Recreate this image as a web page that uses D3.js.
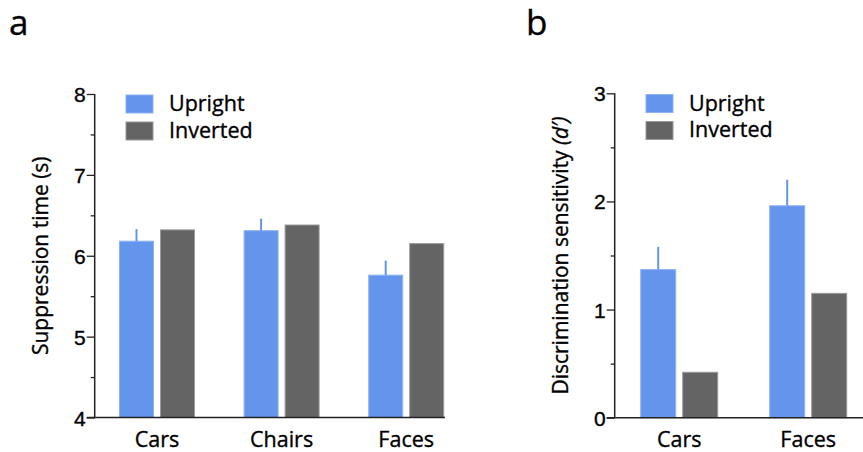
<!DOCTYPE html>
<html>
<head>
<meta charset="utf-8">
<script src="https://cdn.jsdelivr.net/npm/d3@7"></script>
<style>
  body { margin: 0; background: #fff; }
  svg { display: block; font-family: "Open Sans", "Noto Sans", sans-serif; }
  svg text { fill: #000; stroke: #000; stroke-width: 0.35px; }
</style>
</head>
<body>
<div id="chart"></div>
<script>
// Data
const series = ["Upright", "Inverted"];
const colors = ["#6495ED", "#646464"];
const edgeColors = ["#8FB2F2", "#9a9a9a"];

// Panel a: suppression time
const catsA = ["Cars", "Chairs", "Faces"];
const uprightA = [6.18, 6.31, 5.76];
const invertedA = [6.32, 6.38, 6.15];
const uprightErrA = [0.15, 0.15, 0.18];
const ticksA = [4, 5, 6, 7, 8];

// Panel b: discrimination sensitivity
const catsB = ["Cars", "Faces"];
const uprightB = [1.37, 1.96];
const invertedB = [0.42, 1.15];
const uprightErrB = [0.21, 0.24];
const ticksB = [0, 1, 2, 3];

const width = 863, height = 452;

const svg = d3.select("#chart")
  .append("svg")
    .attr("width", width)
    .attr("height", height);

// Draw one bar panel
function drawPanel(opts) {
  const g = svg.append("g");

  const y = d3.scaleLinear().domain(opts.yDomain).range([opts.yBottom, opts.yTop]);
  const x = d3.scaleBand().domain(opts.cats).range(opts.xRange).paddingInner(0).paddingOuter(0);
  const step = x.step();
  const inner = d3.scaleBand().domain(series)
    .range([(step - opts.groupWidth) / 2, (step + opts.groupWidth) / 2])
    .paddingInner(opts.innerPad);

  const rows = opts.cats.map(function(c, i) {
    return { cat: c, values: [opts.upright[i], opts.inverted[i]], err: opts.err[i] };
  });

  // Bars
  const groups = g.selectAll(".grp")
    .data(rows)
    .enter().append("g")
      .attr("transform", function(d) { return "translate(" + x(d.cat) + ",0)"; });

  groups.selectAll("rect")
    .data(function(d) { return d.values.map(function(v, j) { return { s: series[j], v: v, j: j }; }); })
    .enter().append("rect")
      .attr("x", function(d) { return inner(d.s); })
      .attr("y", function(d) { return y(d.v); })
      .attr("width", inner.bandwidth())
      .attr("height", function(d) { return y(opts.yDomain[0]) - y(d.v); })
      .attr("fill", function(d) { return colors[d.j]; })
      .attr("stroke", function(d) { return edgeColors[d.j]; })
      .attr("stroke-width", 1);

  // Error bars (upward only, upright series)
  groups.append("line")
    .attr("x1", inner("Upright") + inner.bandwidth() / 2)
    .attr("x2", inner("Upright") + inner.bandwidth() / 2)
    .attr("y1", function(d) { return y(d.values[0]); })
    .attr("y2", function(d) { return y(d.values[0] + d.err); })
    .attr("stroke", colors[0])
    .attr("stroke-width", 2);

  // Y axis with minor ticks
  const minor = [];
  for (let i = 0; i < opts.ticks.length - 1; i++) minor.push((opts.ticks[i] + opts.ticks[i + 1]) / 2);

  g.append("g")
    .attr("transform", "translate(" + opts.xRange[0] + ",0)")
    .call(d3.axisLeft(y).tickValues(minor).tickSize(4).tickFormat(""))
    .call(function(a) { a.select(".domain").remove(); })
    .selectAll("line").attr("stroke", "#222").attr("stroke-width", 1.3);

  const yAxis = g.append("g")
    .attr("transform", "translate(" + opts.xRange[0] + ",0)")
    .call(d3.axisLeft(y).tickValues(opts.ticks).tickSize(8).tickPadding(1).tickFormat(d3.format("d")));
  yAxis.select(".domain").attr("stroke", "#222").attr("stroke-width", 1.5)
    .attr("d", "M0," + opts.yTop + "V" + opts.yBottom);
  yAxis.selectAll(".tick line").attr("stroke", "#222").attr("stroke-width", 1.3);
  yAxis.selectAll(".tick text")
    .style("font-size", "21px")
    .attr("dy", "0.36em");

  // X axis baseline
  g.append("line")
    .attr("x1", opts.xRange[0] - 8)
    .attr("x2", opts.xEnd)
    .attr("y1", y(opts.yDomain[0]))
    .attr("y2", y(opts.yDomain[0]))
    .attr("stroke", "#222")
    .attr("stroke-width", 1.5);

  // Category labels
  g.selectAll(".cat")
    .data(opts.cats)
    .enter().append("text")
      .attr("x", function(d) { return x(d) + step / 2; })
      .attr("y", opts.yBottom + 29)
      .attr("text-anchor", "middle")
      .style("font-size", "21.5px")
      .text(function(d) { return d; });

  // Y label
  const yl = g.append("text")
    .attr("transform", "translate(" + opts.yLabelX + "," + ((opts.yTop + opts.yBottom) / 2) + ") rotate(-90)")
    .attr("text-anchor", "middle")
    .style("font-size", "21px");
  opts.yLabel(yl);

  // Legend
  const lg = g.append("g").attr("transform", "translate(" + opts.legendX + "," + opts.legendY + ")");
  series.forEach(function(s, i) {
    lg.append("rect")
      .attr("x", 0)
      .attr("y", i * 27)
      .attr("width", 27)
      .attr("height", 18)
      .attr("fill", colors[i])
      .attr("stroke", edgeColors[i])
      .attr("stroke-width", 1);
    lg.append("text")
      .attr("x", 43)
      .attr("y", i * 26.5 + 16)
      .style("font-size", "21.5px")
      .text(s);
  });

  // Panel letter
  svg.append("text")
    .attr("x", opts.letterX)
    .attr("y", 35)
    .style("font-size", "35px")
    .text(opts.letter);
}

drawPanel({
  cats: catsA, upright: uprightA, inverted: invertedA, err: uprightErrA, ticks: ticksA,
  yDomain: [4, 8], yTop: 94, yBottom: 417.5,
  xRange: [94.7, 468.5], xEnd: 445, groupWidth: 75, innerPad: 0.171,
  yLabelX: 48,
  yLabel: function(t) { t.text("Suppression time (s)"); },
  legendX: 126, legendY: 95,
  letter: "a", letterX: 9
});

drawPanel({
  cats: catsB, upright: uprightB, inverted: invertedB, err: uprightErrB, ticks: ticksB,
  yDomain: [0, 3], yTop: 93.3, yBottom: 417.7,
  xRange: [614.7, 872.7], xEnd: 863, groupWidth: 77, innerPad: 0.167,
  yLabelX: 568,
  yLabel: function(t) {
    t.append("tspan").text("Discrimination sensitivity ");
    t.append("tspan").style("font-style", "italic").text("(d\u2032)");
  },
  legendX: 646, legendY: 94.5,
  letter: "b", letterX: 526
});
</script>
</body>
</html>
